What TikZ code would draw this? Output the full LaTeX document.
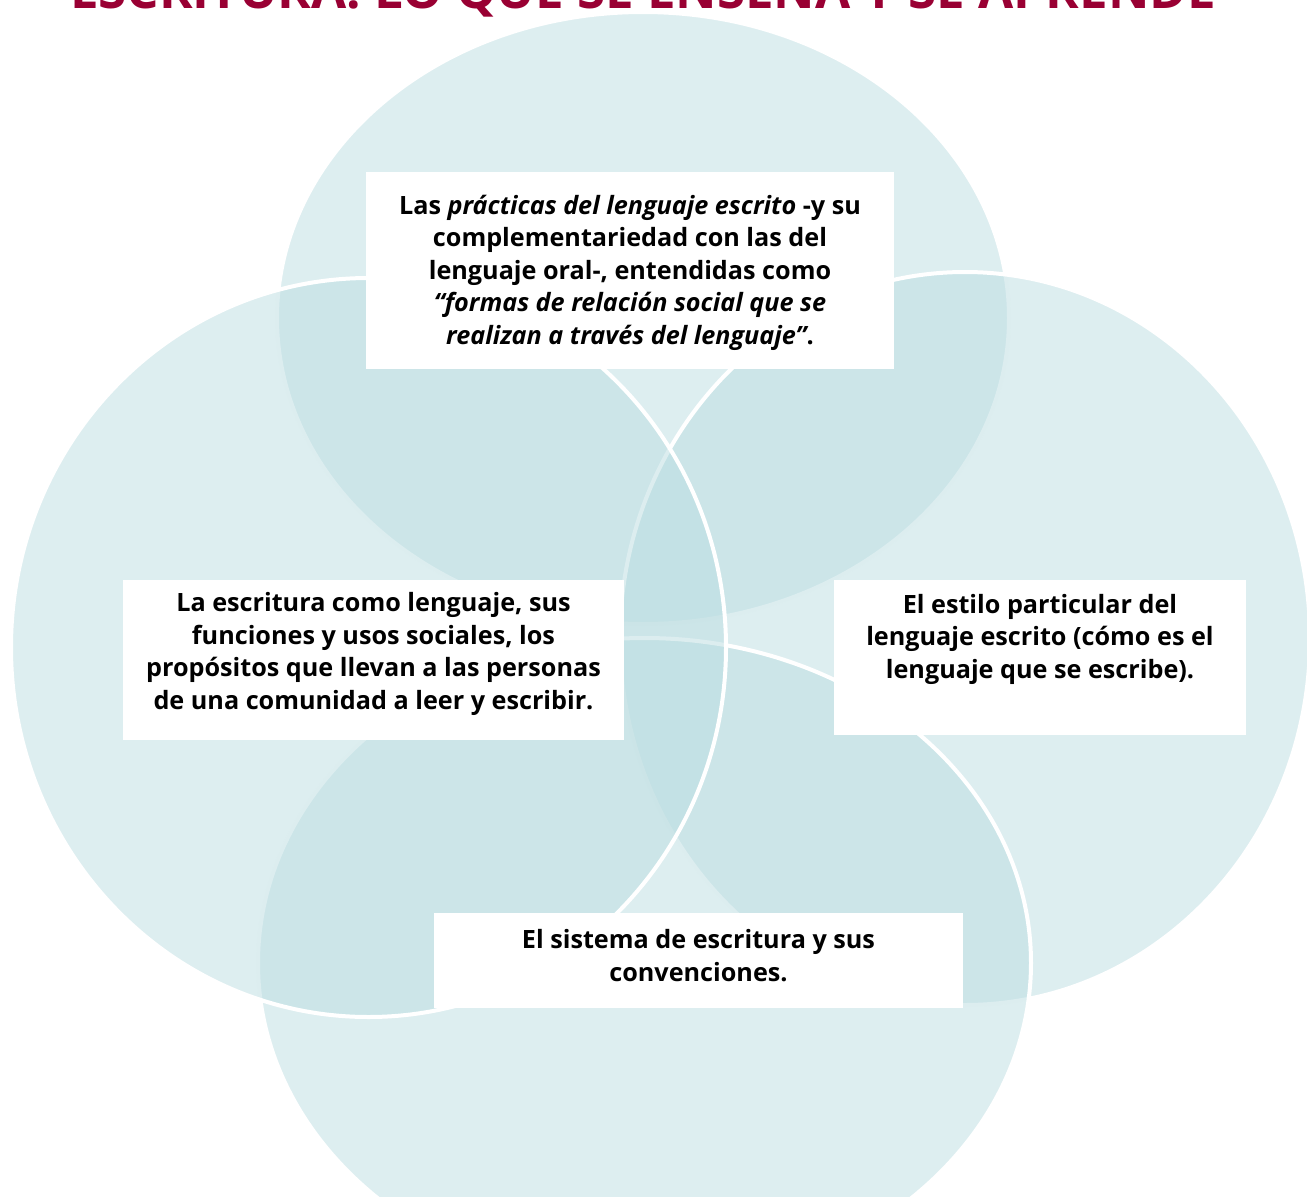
\documentclass[tikz,border=0pt]{standalone}
\usepackage{fontspec}
\setmainfont{Open Sans}
\usetikzlibrary{shapes.geometric}
\definecolor{vennfill}{RGB}{187,221,225}
\definecolor{titlered}{RGB}{153,0,51}
\begin{document}
\begin{tikzpicture}[x=1pt,y=-1pt,
  venn/.style={ellipse, draw=white, line width=4pt, fill=vennfill, fill opacity=0.5, draw opacity=1, inner sep=0pt, outer sep=0pt},
  textbox/.style={rectangle, fill=white, draw=none, inner sep=0pt, outer sep=0pt},
  boxtext/.style={align=center, inner sep=0pt, anchor=base, font=\bfseries\fontsize{25.2}{32.5}\selectfont}
]
\useasboundingbox (0,0) rectangle (1307,1197);
\begin{scope}
\clip (0,0) rectangle (1307,1197);
% overlapping ellipses (drawing order matters)
\node[venn, minimum width=732pt, minimum height=612pt] (etop) at (643,318) {};
\node[venn, minimum width=690pt, minimum height=733pt] (eright) at (965,638.5) {};
\node[venn, minimum width=773pt, minimum height=650pt] (ebottom) at (644.5,963) {};
\node[venn, minimum width=715pt, minimum height=739pt] (eleft) at (368.5,647.5) {};
% title (cut off at the top edge, as in the original)
\node[anchor=base, text=titlered, font=\bfseries\fontsize{51}{51}\selectfont] (title) at (643,8) {ESCRITURA: LO QUE SE ENSEÑA Y SE APRENDE};
\end{scope}
% white boxes
\node[textbox, minimum width=528pt, minimum height=197pt] (btop) at (630,270.5) {};
\node[textbox, minimum width=501pt, minimum height=160pt] (bleft) at (373.5,660) {};
\node[textbox, minimum width=412pt, minimum height=155pt] (bright) at (1040,657.5) {};
\node[textbox, minimum width=529pt, minimum height=95pt] (bbottom) at (698.5,960.5) {};
% texts (anchor = baseline of the last line)
\node[boxtext] (ttop) at (630,344) {Las \textit{prácticas del lenguaje escrito} -y su\\complementariedad con las del\\lenguaje oral-, entendidas como\\\textit{“formas de relación social que se}\\\textit{realizan a través del lenguaje”}.};
\node[boxtext] (tleft) at (373.5,709) {La escritura como lenguaje, sus\\funciones y usos sociales, los\\propósitos que llevan a las personas\\de una comunidad a leer y escribir.};
\node[boxtext] (tright) at (1040,678) {El estilo particular del\\lenguaje escrito (cómo es el\\lenguaje que se escribe).};
\node[boxtext] (tbottom) at (698.5,981) {El sistema de escritura y sus\\convenciones.};
\end{tikzpicture}
\end{document}
